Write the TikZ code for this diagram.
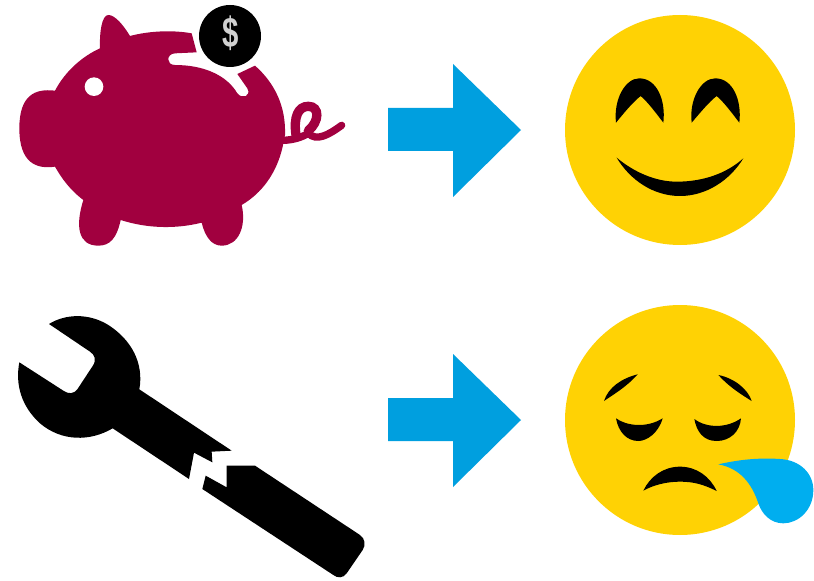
\documentclass[tikz,border=0pt]{standalone}
\usepackage{fontspec}
\setsansfont{Liberation Sans}
\definecolor{pig}{HTML}{A1003F}
\definecolor{smile}{HTML}{FFD204}
\definecolor{arrowblue}{HTML}{009FDF}
\definecolor{tearblue}{HTML}{00AEEF}
\tikzset{
  zoomed/.style={x=0.25pt,y=-0.25pt},
  feature/.style={fill=black},
  facedisc/.style={fill=smile},
  blockarrow/.style={fill=arrowblue}
}
\begin{document}
\begin{tikzpicture}[x=0.75pt,y=-0.75pt]
\useasboundingbox (0,0) rectangle (814,581);
% piggy bank
\begin{scope}[zoomed]
\fill[pig] (300,145) .. controls (298,100) and (305,45) .. (325,45)
  .. controls (345,45) and (370,75) .. (390,108)
  .. controls (450,92) and (520,90) .. (575,100)
  -- (590,157) -- (525,160) .. controls (498,162) and (498,195) .. (525,195)
  .. controls (610,195) and (680,225) .. (712,280)
  .. controls (725,298) and (755,290) .. (742,265)
  -- (712,222) -- (765,197)
  .. controls (825,250) and (858,320) .. (855,405)
  -- (848,440) .. controls (830,520) and (785,580) .. (725,615)
  .. controls (740,680) and (715,737) .. (665,737)
  .. controls (635,737) and (615,710) .. (605,668)
  .. controls (525,688) and (440,685) .. (362,660)
  .. controls (350,715) and (330,737) .. (295,737)
  .. controls (235,737) and (225,680) .. (250,600)
  .. controls (210,570) and (185,535) .. (165,500)
  .. controls (110,508) and (58,490) .. (58,385)
  .. controls (58,285) and (105,265) .. (165,272)
  .. controls (195,215) and (245,170) .. (300,145) -- cycle;
\draw[pig,line width=7pt,line cap=round]
  (888,405) .. controls (880,350) and (895,319) .. (925,319)
  .. controls (960,319) and (958,365) .. (925,392);
\draw[pig,line width=5.5pt,line cap=round]
  (850,421) .. controls (880,420) and (905,412) .. (925,400)
  .. controls (950,425) and (985,405) .. (1025,376);
\fill[white] (282,260) circle (28);
\fill[white] (690,108) circle (106);
\fill[black] (690,108) circle (93);
\node[font=\sffamily\bfseries,text=white!82!black,xscale=2.2,yscale=3.2,inner sep=0] (dollar) at (692,100) {\$};
\end{scope}
% wrench
\begin{scope}[shift={(0,300)},zoomed]
\fill[black] (147,72) .. controls (195,42) and (265,38) .. (325,75)
  .. controls (395,120) and (432,190) .. (418,268)
  -- (695,452) -- (635,455) -- (637,487) -- (582,458) -- (567,537) -- (338,385)
  .. controls (270,425) and (185,425) .. (120,370)
  .. controls (65,320) and (45,255) .. (58,187)
  -- (190,272) .. controls (205,283) and (222,282) .. (232,268)
  -- (278,198) .. controls (290,180) and (285,165) .. (270,155) -- cycle;
\fill[black] (680,497) -- (765,497) -- (1080,705)
  .. controls (1095,715) and (1098,735) .. (1088,750)
  -- (1040,820) .. controls (1030,835) and (1012,835) .. (1000,825)
  -- (607,567) -- (617,527) -- (680,562) -- cycle;
\end{scope}
% arrows
\fill[blockarrow] (388,108) -- (453,108) -- (453,64) -- (521,130) -- (453,197) -- (453,151) -- (388,151) -- cycle;
\fill[blockarrow] (388,398) -- (453,398) -- (453,354) -- (521,420) -- (453,487) -- (453,441) -- (388,441) -- cycle;
% happy face
\fill[facedisc] (680,130) circle (115);
\begin{scope}[shift={(560,10)},zoomed]
\fill[feature] (168,338) .. controls (160,270) and (195,205) .. (238,205)
  .. controls (290,205) and (318,270) .. (310,338)
  .. controls (285,305) and (262,275) .. (242,258)
  .. controls (220,275) and (195,305) .. (168,338) -- cycle;
\fill[feature] (395,338) .. controls (387,270) and (422,205) .. (466,205)
  .. controls (518,205) and (546,270) .. (538,338)
  .. controls (513,305) and (490,275) .. (470,258)
  .. controls (448,275) and (423,305) .. (395,338) -- cycle;
\fill[feature] (170,443) .. controls (220,485) and (285,515) .. (350,515)
  .. controls (430,515) and (500,490) .. (550,445)
  .. controls (510,510) and (440,558) .. (360,558)
  .. controls (280,558) and (210,510) .. (170,443) -- cycle;
\end{scope}
% sad face
\fill[facedisc] (680,420) circle (115);
\begin{scope}[shift={(560,300)},zoomed]
\fill[feature] (132,303) .. controls (145,262) and (185,235) .. (233,223)
  .. controls (198,262) and (165,280) .. (132,303) -- cycle;
\fill[feature] (475,225) .. controls (525,235) and (565,270) .. (575,303)
  .. controls (535,278) and (505,258) .. (475,225) -- cycle;
\fill[feature] (168,355) .. controls (200,378) and (260,385) .. (308,355)
  .. controls (295,400) and (260,423) .. (235,423)
  .. controls (200,423) and (175,395) .. (168,355) -- cycle;
\fill[feature] (403,357) .. controls (440,385) and (500,385) .. (543,355)
  .. controls (540,395) and (510,423) .. (470,423)
  .. controls (430,423) and (410,395) .. (403,357) -- cycle;
\fill[feature] (250,572) .. controls (270,530) and (310,500) .. (360,500)
  .. controls (410,500) and (450,530) .. (470,573)
  .. controls (430,553) and (400,545) .. (360,545)
  .. controls (320,545) and (280,555) .. (250,572) -- cycle;
\fill[tearblue] (475,493) .. controls (540,478) and (600,473) .. (660,477)
  .. controls (720,480) and (760,520) .. (760,570)
  .. controls (760,630) and (715,670) .. (670,670)
  .. controls (630,670) and (605,640) .. (595,610)
  .. controls (575,550) and (540,505) .. (475,493) -- cycle;
\end{scope}
\end{tikzpicture}
\end{document}
